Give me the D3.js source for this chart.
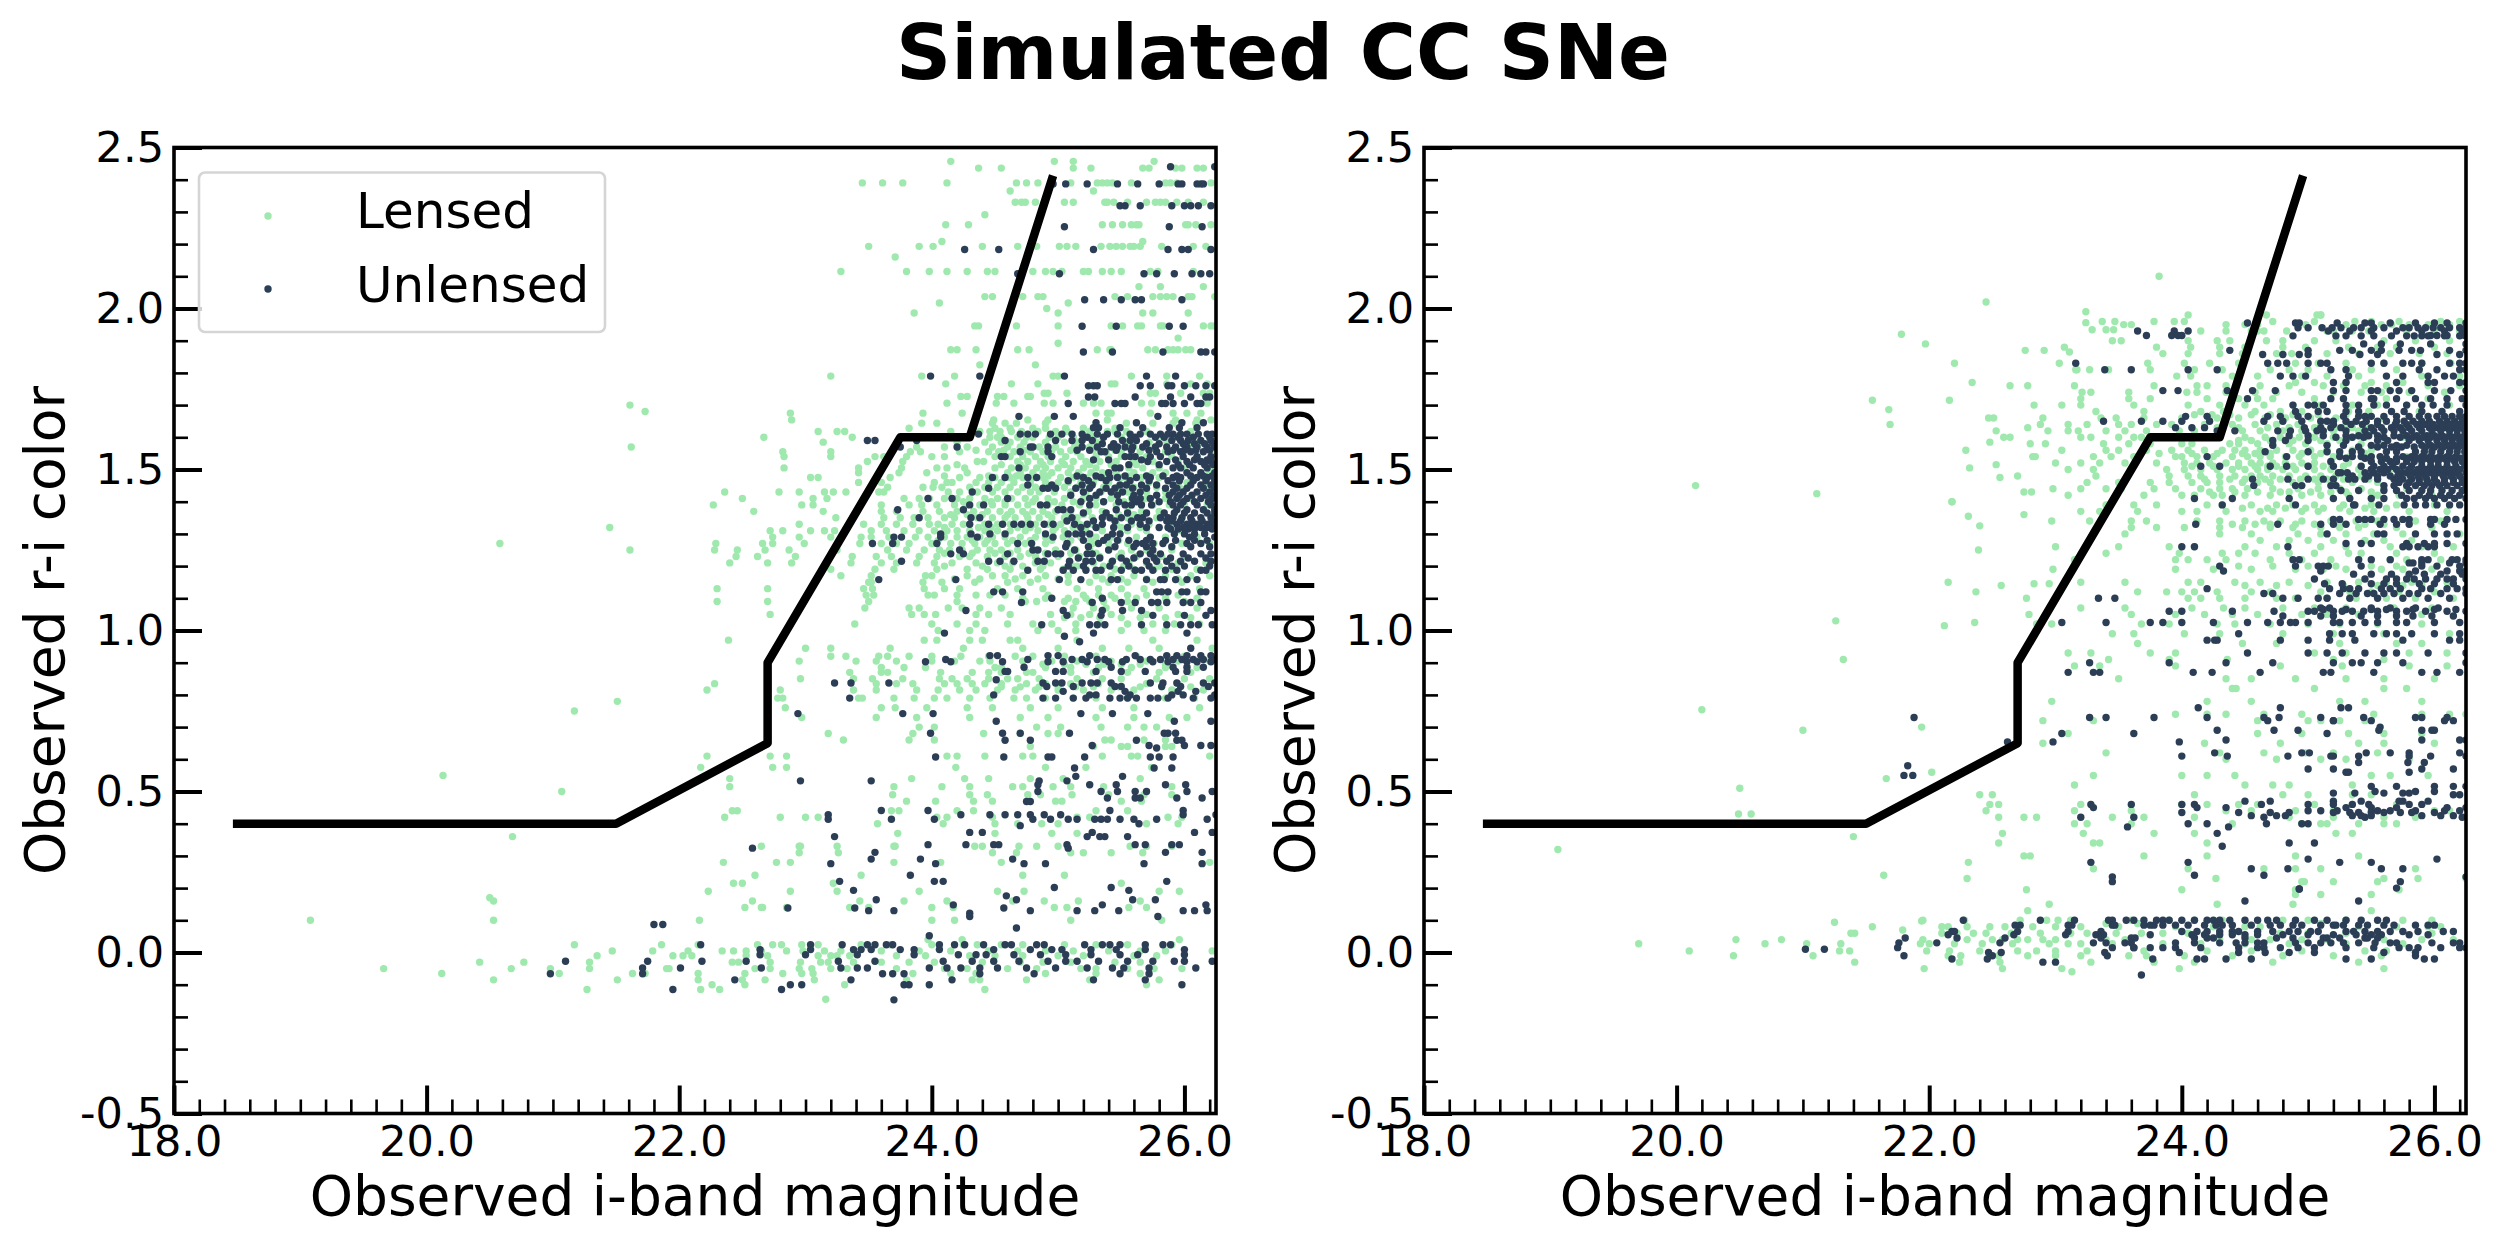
<!DOCTYPE html>
<html><head><meta charset="utf-8"><script src="https://cdn.jsdelivr.net/npm/d3@7"></script>
<style>html,body{margin:0;background:#fff}svg{display:block}text{font-family:"DejaVu Sans";fill:#000}</style></head><body><div id="c"></div>
<script>
const xDomain=[18,26.25], yDomain=[-0.5,2.5];
const xMajor=[18,20,22,24,26], xTickLabels=["18.0","20.0","22.0","24.0","26.0"];
const yMajor=[-0.5,0,0.5,1,1.5,2,2.5], yTickLabels=["-0.5","0.0","0.5","1.0","1.5","2.0","2.5"];
const cutMag=[18.5,21.5,22.7,22.7,23.75,24.3,24.95], cutColor=[0.4,0.4,0.65,0.9,1.6,1.6,2.4];
// rows: [r-i colour, [i magnitudes]]
const unlensedLeft=[
[2.44,[25.89,26.24]],[2.387,[24.96,25.06,25.23,25.47,25.63,25.8,25.95,25.98,26.1,26.13,26.15]],
[2.319,[25.49,25.53,25.65,25.9,26.0,26.05,26.11,26.21]],[2.254,[25.05,25.88,26.14]],
[2.183,[24.26,24.53,25.28,25.87,25.98,26.03,26.21]],[2.108,[24.68,25.01,25.68,25.78,25.92,26.06,26.13,26.2]],
[2.027,[25.21,25.36,25.5,25.61,25.66,25.98]],[1.945,[25.19,25.46,25.88,25.99]],[1.865,[25.2,25.43,25.83,26.13,26.17,26.24]],
[1.79,[23.99,24.38,25.05,25.7,25.93]],[1.76,[25.28,25.31,25.24,25.65,25.9,25.87,26.0,26.09,26.17,26.24,25.73]],
[1.725,[25.24,25.29,25.61,25.89,26.05,26.17,26.2]],[1.705,[25.08,25.45,25.5,25.53,25.82,25.85,25.91,26.0,26.1,26.13]],
[1.665,[24.69,24.97,25.12,25.79]],[1.63,[25.32,25.28,25.49,25.67,25.88,25.96,26.1]],
[1.61,[24.37,24.7,24.76,24.82,24.94,25.03,25.11,25.19,25.31,25.39,25.47,25.57,25.65,25.73,25.81,25.87,25.91,25.97,26.02,26.11,26.18,26.22]],
[1.59,[23.49,23.55,23.88,24.58,24.98,25.11,25.19,25.27,25.51,25.57,25.62,25.9,25.97,26.03,26.13,26.21]],
[1.57,[23.75,24.2,24.78,24.8,24.92,25.19,25.31,25.42,25.47,25.53,25.59,25.67,25.77,25.86,25.93,26.02,26.1,26.18,26.24]],
[1.555,[24.7,24.92,25.34,25.37,25.78,25.87,25.97,26.05,26.15]],[1.54,[24.55,24.58,24.95,25.53,25.57,25.61,25.73,25.81,25.99,26.1,26.21]],
[1.525,[25.71,25.86,26.02,26.13,26.21]],[1.505,[24.69,25.49,25.45,25.91,25.97,26.07,26.18]],[1.49,[25.4,26.02,26.13,26.24]],
[1.475,[24.48,24.58,24.76,24.83,25.2,25.34,25.41,25.47,25.62,25.73,25.91,25.97,26.1,26.18,26.24]],
[1.452,[24.76,24.95,25.19,25.27,25.49,25.54,25.66,25.78,25.91,26.05,26.13,26.21]],
[1.442,[24.45,24.88,24.92,24.98,25.14,25.25,25.38,25.45,25.59,25.7,25.85,25.94,26.02,26.15,26.24]],
[1.43,[24.32,25.2,25.33,25.42,25.51,25.65,25.91,25.99,26.1,26.2]],
[1.41,[23.97,24.16,24.6,25.25,25.59,25.65,25.73,25.94,26.02,26.13,26.22]],
[1.39,[24.3,24.41,24.86,24.91,25.25,25.53,25.58,25.66,25.74,25.91,25.97,26.1,26.21]],
[1.375,[23.73,24.25,25.0,25.04,25.1,25.46,25.94,26.02,26.15,26.24]],
[1.35,[23.9,24.31,24.38,25.11,25.35,25.41,25.5,25.63,25.67,25.81,25.87,25.91,25.98,26.05,26.13,26.21]],
[1.33,[24.3,24.45,24.56,24.65,24.71,24.78,24.89,24.96,25.13,25.23,25.35,25.65,25.94,26.02,26.1,26.18,26.24]],
[1.315,[25.89,25.95,26.03,26.08,26.16,26.22]],
[1.30,[24.07,24.31,24.46,24.58,24.9,25.08,25.14,25.19,25.25,25.49,25.43,25.92,26.0,26.08,26.16]],
[1.29,[23.7,23.76,24.07,24.36,24.96,25.39,25.73,26.04,26.24]],
[1.27,[23.53,23.69,24.04,24.68,24.79,25.07,25.32,25.62,25.67,25.75,25.83,26.02,26.13]],
[1.25,[24.22,24.8,24.84,25.13,25.4,25.75]],
[1.238,[24.15,24.25,24.6,24.92,24.98,25.02,25.23,25.27,25.65,25.73,25.81,25.99,26.13,26.21]],
[1.215,[23.76,24.45,24.54,24.65,24.84,24.89,25.09,25.22,25.27,25.43,25.54,25.7,25.78,25.86,25.97,26.08,26.21]],
[1.187,[24.76,25.04,25.12,25.22,25.3,25.34,25.5,25.61,25.66,25.75,25.85,25.94,26.17,26.13]],
[1.158,[23.58,24.19,25.01,25.18,25.42,25.47,25.7,25.81,25.84,25.93,26.02,26.1]],
[1.12,[24.49,24.56,24.72,25.78,25.82,25.87,25.98,26.02,26.13,26.17]],[1.10,[24.95,25.35]],
[1.087,[24.71,25.27,25.5,25.61,25.74,25.79,25.86,25.99,26.05,26.13]],[1.062,[24.27,25.04,25.35,25.51,25.66,26.21]],
[1.047,[25.07,25.34,25.75,26.0,26.17]],[1.018,[24.87,25.25,25.31,25.37,25.66,25.86,25.97,26.05,26.11,26.22]],
[0.992,[24.1,25.28,26.02]],[0.982,[25.05]],[0.965,[25.17]],[0.945,[26.05]],
[0.922,[24.46,24.52,24.92,25.0,25.25,25.61,25.86,25.94,26.02,26.13,26.21]],
[0.91,[24.11,24.76,25.11,25.19,25.31,25.37,25.54,25.65,25.73,25.81,25.91,25.98,26.07,26.15,26.24]],
[0.903,[23.95,24.15,24.56,24.92,25.04,25.23,25.4,25.51,25.75,25.87,26.02,26.1,26.21]],
[0.886,[24.73,25.42,25.91,26.02,26.15]],[0.873,[24.58,24.6,24.98,25.04,25.3,25.5,25.69,25.93,26.02]],
[0.847,[24.51]],[0.837,[23.23,23.36,23.66,24.88,24.98,25.03,25.19,25.26,25.31,25.42,25.73,25.83,25.94,26.15,26.24]],
[0.826,[24.91,25.12,25.45,25.5,25.82,25.97,26.19]],[0.811,[25.04,25.53,25.95,26.09]],[0.80,[24.49,25.3,25.25,25.57,25.9,25.99,26.24]],
[0.79,[23.35,24.88,24.98,25.12,25.22,25.41,25.49,25.55,25.62,25.73,25.79,25.87,26.07,26.21]],
[0.742,[22.94,23.77,24.01,25.18,25.43,25.71]],[0.718,[24.51,25.92,26.21]],[0.681,[23.99,24.56,24.7,25.09,25.84,25.87,25.93]],
[0.659,[24.58,24.78,25.62,25.94,25.98]],[0.643,[25.27,25.72,26.13,26.21,26.0]],[0.635,[25.78]],
[0.607,[24.03,24.57,24.92,24.95,25.21,25.73,25.8,25.91]],[0.573,[25.13,25.76,25.9]],[0.547,[25.14,25.51]],
[0.533,[22.96,23.52,24.85,25.07]],[0.521,[24.84,25.25,25.46,25.85,26.01]],[0.50,[24.84,25.34,25.47,25.61,25.7,26.02,26.22]],
[0.48,[25.39,25.61,25.65,25.94,26.14]],[0.469,[24.75,24.78]],[0.441,[23.6,23.97,25.41,25.99]],
[0.428,[23.18,24.23,24.46,24.58,24.68,24.78,24.89,25.02,25.99,26.25]],
[0.414,[23.18,23.68,24.02,24.8,24.94,25.08,25.15,25.29,25.34,25.39,25.49,25.6,25.78,26.18]],[0.40,[25.64]],[0.394,[24.7]],
[0.373,[24.3,24.4,25.27,26.08,26.22]],[0.36,[23.23,25.23,25.33,25.37,25.55]],
[0.335,[23.97,24.27,24.49,24.53,25.07,25.61,25.69,25.9,25.96]],[0.324,[22.58,25.08]],[0.311,[23.55,25.85,26.14]],
[0.29,[23.52,23.91,24.64]],[0.276,[23.2,24.03,24.73,24.9,25.68,26.14]],[0.24,[23.83]],[0.221,[23.27,24.02,24.09,25.86]],
[0.202,[24.97,25.42]],[0.193,[23.38,25.56]],[0.176,[24.59]],[0.164,[23.56,24.67,25.59,25.77]],[0.148,[24.17,25.35,26.17]],
[0.138,[22.86,23.39,24.57]],[0.13,[23.5,23.7,24.78,25.15,25.29,25.48,25.99,26.08,26.18]],[0.122,[24.3]],[0.112,[24.3,25.79]],
[0.087,[21.8,21.87]],[0.076,[24.67]],[0.052,[23.98]],
[0.024,[22.17,23.04,23.29,23.49,23.55,23.64,23.69,24.06,24.18,24.26,24.41,24.58,24.63,24.83,24.89,25.21,25.35,25.41,25.49,25.69,25.83,25.89]],
[0.009,[22.64,23.04,23.38,23.44,23.52,23.75,23.86,24.06,24.49,24.78,24.95,25.03,25.26,25.46,25.69,26.0]],
[-0.007,[22.64,23.0,23.41,23.86,24.21,24.35,24.43,24.65,24.86,25.06,25.26,25.49,25.63,26.0]],
[-0.027,[21.1,21.75,22.18,22.53,23.26,23.55,24.09,24.32,24.49,24.69,24.92,25.06,25.15,25.32,25.55,25.75,25.92,26.0,26.22]],
[-0.048,[21.71,22.01,22.65,23.28,23.41,23.49,23.98,24.12,24.23,24.38,24.52,24.75,24.98,25.23,25.43,25.52,25.72,26.09]],
[-0.066,[20.98,21.71,23.61,23.69,23.78,24.38,24.81,25.49,25.72]],[-0.085,[22.44,23.36,24.16,25.28,25.69]],
[-0.10,[22.88,22.97,23.78,23.82,23.98,25.98]],[-0.115,[21.95,22.81]],[-0.147,[23.7]]];
const unlensedLeftDense=[
[1.645,[25.3,25.62,25.98,26.15]],[1.6,[25.23,25.36,25.61,25.77,25.84,25.95,26.07,26.2]],[1.58,[25.35,25.44,25.7,25.8,25.99,26.08,26.16,26.23]],
[1.56,[25.15,25.25,25.46,25.58,25.72,25.91,26.0,26.09,26.2]],[1.53,[25.28,25.4,25.66,25.93,26.08,26.18]],[1.515,[25.56,25.8,25.95,26.04,26.16,26.23]],
[1.48,[25.15,25.3,25.53,25.7,25.83,25.94,26.05,26.15,26.22]],[1.465,[25.08,25.24,25.38,25.57,25.72,25.87,25.96,26.07,26.17,26.24]],
[1.42,[25.1,25.3,25.47,25.6,25.78,25.88,25.96,26.06,26.17,26.24]],[1.40,[25.18,25.36,25.48,25.62,25.8,25.89,25.99,26.08,26.19]],
[1.365,[25.2,25.38,25.55,25.7,25.84,25.92,26.0,26.08,26.18,26.24]],[1.34,[25.07,25.28,25.45,25.58,25.72,25.86,25.9,25.97,26.06,26.14,26.22]],
[1.32,[25.18,25.3,25.44,25.55,25.7,25.8,25.87,25.99,26.06,26.13,26.2]],[1.28,[25.2,25.36,25.47,25.56,25.7,25.85,25.93,26.08,26.18]],
[1.26,[25.06,25.24,25.45,25.6,25.7,25.9,26.05,26.2]],[1.225,[25.16,25.33,25.5,25.6,25.76,25.89,26.03,26.17]],[1.2,[25.08,25.2,25.41,25.56,25.72,25.9,26.0,26.2]]];
const lensedLeft=[
[2.457,[24.15,24.97,25.12,25.76]],[2.436,[24.37,24.55,25.12,25.26,25.67,25.72,25.93,25.98,26.1,26.15]],
[2.39,[23.45,23.61,23.77,24.12,24.67,24.75,24.84,25.1,25.31,25.35,25.39,25.43,25.58,25.85,25.89,25.94,26.21]],[2.365,[24.62,25.28]],
[2.33,[24.66,24.71,24.74,24.82,25.05,25.12,25.37,25.39,25.44,25.55,25.7,25.77,25.81,25.85,25.94,26.03,26.15]],[2.291,[24.42]],
[2.26,[24.11,24.29,25.35,25.43,25.51,25.58,25.62,25.64,26.01,26.03,26.09,26.21]],[2.208,[24.08,25.67]],
[2.193,[23.5,23.9,24.01,24.4,24.68,24.83,25.01,25.07,25.14,25.34,25.41,25.46,25.51,25.57,25.6,25.65,25.82,26.07,26.17]],[2.16,[23.71]],
[2.115,[23.28,23.8,23.98,24.12,24.28,24.44,24.5,24.8,24.9,24.96,25.03,25.2,25.24,25.35,25.42,25.5,26.07,25.73,25.79]],[2.068,[25.64,25.81,26.15]],
[2.037,[24.42,24.48,24.72,24.84,24.88,25.45,25.55,25.75,25.81,25.86,25.91,26.03,26.06,26.24]],[2.017,[24.06,25.08]],[2.0,[24.91]],
[1.986,[23.86,25.0,25.67,25.75,26.03]],[1.946,[24.34,24.37,24.67,25.0,25.42,25.51,25.63,25.66,25.81,25.83,26.15,26.21,26.24]],[1.908,[25.95]],[1.892,[25.0]],
[1.872,[24.15,24.2,24.35,24.68,24.77,25.31,25.41,25.42,25.71,25.77,25.87,25.91,25.95,26.01,26.05]],[1.825,[24.38,24.82]],
[1.79,[23.2,23.92,24.18,24.96,25.0,25.58,25.86,26.12]],[1.766,[24.11,24.63,24.84,25.42,25.45,25.86,26.05,26.18]],
[1.737,[24.89,24.92,25.07,25.73,25.77,25.97,26.2,26.15]],[1.727,[24.23,24.28,24.52,24.57,24.76,24.78]],
[1.706,[24.12,24.51,24.65,24.89,24.96,25.2,25.28,25.34,25.66,25.74,26.18]],
[1.675,[22.88,23.93,24.24,25.3,25.39,25.42,25.73,25.91,26.02,26.13]],[1.654,[22.89,24.49,24.76,24.92,25.39,25.93,26.1,26.21]],
[1.644,[23.92,24.04,24.48,24.58,24.67,24.9,25.54,25.75,25.91,26.09]],[1.628,[23.82,24.9,25.06,24.5,24.62,24.8,25.2,25.45]],
[1.618,[23.1,23.25,23.31,24.15,24.38,24.46,24.54,24.63,24.71,24.84,24.98,25.07,25.25,25.39,25.45,25.54,25.7,26.05]],
[1.6,[22.67,23.37,24.46,24.52,24.68,24.8,25.0,25.35,25.6,25.8,25.97,26.2]],
[1.585,[23.14,24.2,24.42,24.55,24.62,24.73,24.9,25.05,25.15,25.3,25.55,25.72,25.86,26.12]],
[1.57,[23.88,24.1,24.28,24.48,24.6,24.7,24.85,24.98,25.13,25.25,25.43,25.6,25.77,25.93,26.05]],
[1.555,[22.82,23.2,23.83,23.91,24.22,24.45,24.53,24.65,24.78,24.88,25.02,25.15,25.38,25.5,25.65,25.85,26.22]],
[1.54,[22.83,23.2,23.55,23.62,23.8,24.0,24.1,24.5,24.62,24.72,24.82,24.92,25.06,25.18,25.3,25.4,25.5,25.7,25.9,26.1]],
[1.525,[23.49,23.77,24.36,24.41,24.68,24.76,24.86,24.94,25.03,25.12,25.22,25.33,25.46,25.6,25.75,25.95,26.15]],
[1.505,[22.83,23.42,23.76,24.04,24.12,24.26,24.5,24.63,24.74,24.83,24.9,25.0,25.1,25.2,25.3,25.56,25.67,25.8,26.0,26.22]],
[1.49,[23.42,23.74,23.96,24.28,24.6,24.7,24.8,24.88,24.95,25.08,25.16,25.26,25.35,25.46,25.6,25.75,25.85,26.2]],
[1.475,[23.04,23.1,23.67,24.22,24.38,24.5,24.62,24.72,24.8,24.88,25.02,25.12,25.22,25.32,25.5,25.66,25.8,25.95,26.1]],
[1.46,[23.42,23.6,24.02,24.12,24.16,24.35,24.45,24.55,24.65,24.78,24.9,25.0,25.08,25.18,25.28,25.4,25.55,25.72,26.02]],
[1.445,[23.65,23.93,24.01,24.08,24.3,24.42,24.52,24.62,24.72,24.82,24.94,25.05,25.15,25.25,25.36,25.47,25.6,25.78,25.96,26.18]],
[1.43,[22.36,22.79,22.95,23.15,23.22,23.32,23.58,23.62,24.13,24.22,24.36,24.48,24.58,24.68,24.78,24.85,24.97,25.1,25.22,25.34,25.45,25.55,25.7,25.85]],
[1.41,[22.5,23.06,23.17,23.78,23.9,23.98,24.1,24.2,24.3,24.42,24.52,24.63,24.74,24.82,24.92,25.05,25.2,25.3,25.42,25.58,25.7,25.85,26.05]],
[1.39,[22.27,22.97,23.06,23.6,23.82,23.92,24.04,24.18,24.27,24.38,24.48,24.58,24.68,24.76,24.92,25.03,25.17,25.3,25.46,25.58,25.75,25.88,26.0,26.18]],
[1.37,[22.59,23.14,23.6,23.72,23.93,24.06,24.2,24.33,24.44,24.54,24.63,24.72,24.8,24.88,24.98,25.1,25.24,25.35,25.55,25.66,25.8]],
[1.35,[23.24,23.62,23.75,23.86,23.97,24.1,24.18,24.36,24.48,24.58,24.66,24.76,24.85,24.95,25.05,25.15,25.27,25.42,25.55,25.66,25.78,25.98]],
[1.33,[22.95,23.46,23.6,23.72,23.85,23.98,24.05,24.16,24.25,24.42,24.52,24.62,24.73,24.82,24.92,25.02,25.17,25.27,25.46,25.58,25.72,25.88]],
[1.31,[22.72,22.82,23.04,23.15,23.23,23.52,23.64,23.78,23.9,24.02,24.12,24.2,24.3,24.42,24.52,24.62,24.74,24.84,24.96,25.05,25.22,25.35,25.55,25.7,25.95]],
[1.29,[22.74,22.95,23.2,23.44,23.52,23.66,23.87,23.97,24.1,24.2,24.28,24.38,24.48,24.58,24.7,24.82,24.9,25.04,25.18,25.3,25.42,25.62,25.85,26.1]],
[1.27,[22.29,22.66,22.74,22.99,23.43,23.6,23.72,23.82,24.0,24.15,24.24,24.34,24.42,24.5,24.6,24.74,24.9,25.08,25.27,25.4,25.55,25.76,25.98,26.2]],
[1.25,[22.28,22.46,22.68,22.87,23.25,23.65,23.8,23.94,24.06,24.14,24.24,24.36,24.46,24.55,24.68,24.82,24.98,25.14,25.25,25.4,25.58,25.7,25.9]],
[1.23,[22.45,22.62,22.92,23.37,23.56,23.68,23.9,24.04,24.22,24.3,24.44,24.58,24.7,24.82,25.0,25.17,25.33,25.48,25.62,25.82,26.0]],
[1.21,[22.4,22.7,22.89,23.36,23.6,23.72,23.88,24.02,24.16,24.35,24.52,24.64,24.82,24.94,25.1,25.28,25.42,25.56,25.7,25.95,26.17]],
[1.19,[23.2,23.55,23.7,24.04,24.28,24.44,24.62,24.86,25.04,25.22,25.45,25.6,25.76,25.9,26.1]],
[1.17,[23.28,23.52,23.95,24.0,24.28,24.48,24.58,24.72,24.9,25.08,25.3,25.42,25.6,25.85,26.05,26.2]],
[1.15,[23.5,23.52,23.93,24.08,24.34,24.6,24.78,25.08,25.25,25.4,25.55,25.75,25.98]],
[1.13,[22.3,22.7,23.46,23.53,23.94,24.1,24.22,24.52,24.68,24.88,25.15,25.32,25.5,25.68,26.12]],
[1.11,[23.48,23.54,23.97,24.02,24.2,24.35,24.46,24.58,24.92,25.2,25.32,25.42,25.55,25.7,25.95]],
[1.09,[22.3,22.7,23.5,24.2,24.74,24.83,25.05,25.14,25.25,25.36,25.55,25.86,26.0]],
[1.07,[23.47,23.82,23.9,24.13,24.24,24.38,24.55,25.12,25.28,25.38,25.58,25.8,26.1]],
[1.05,[22.72,23.84,23.94,24.03,24.35,24.45,24.62,24.94,25.1,25.25,25.42,25.7,25.95]],
[1.02,[23.39,24.0,24.2,24.35,24.6,24.8,24.95,25.14,25.33,25.55,25.75,25.92,26.12]],
[1.0,[24.05,24.3,24.42,24.84,25.0,25.14,25.5,25.68,25.85]],[0.97,[22.39,23.94,24.04,24.3,24.4,24.62,24.68,25.15,25.75,26.1]],
[0.945,[23.0,23.2,23.67,24.25,24.72,25.0,25.35,25.56,25.8,26.22]],
[0.92,[23.2,23.32,23.58,23.65,23.82,24.0,24.23,24.45,24.66,24.8,25.05,25.3,25.62,26.0]],
[0.905,[22.95,23.4,23.56,23.72,24.0,24.18,24.38,24.46,24.72,24.95,25.15,25.42,25.7,25.95,26.2]],
[0.885,[23.6,23.78,23.95,24.5,24.55,24.9,25.1,25.32,25.58,25.85,26.1]],
[0.87,[23.35,23.6,23.65,24.07,24.32,24.45,24.55,24.75,24.8,25.1,25.28,25.55,25.8,26.05]],
[0.85,[22.96,23.38,23.53,23.77,24.06,24.16,24.28,24.45,24.6,24.68,24.85,25.15,25.35,25.5,25.78,26.0,26.2]],
[0.835,[22.28,23.56,23.72,23.85,24.1,24.2,24.32,24.42,24.55,24.75,24.9,25.1,25.32,25.7,25.95]],
[0.815,[22.22,22.8,23.38,23.56,23.88,24.05,24.22,24.35,24.52,24.66,24.82,25.0,25.2,25.42,25.6,25.9,26.15]],
[0.79,[22.78,22.82,23.42,23.45,23.7,23.86,24.02,24.12,24.3,24.46,24.65,24.75,24.9,25.12,25.3,25.55,25.85,26.08]],
[0.76,[22.84,23.6,23.71,23.96,24.28,24.48,24.78,25.0,25.35,25.6,26.12]],[0.73,[22.97,23.56,23.88,24.3,24.7,24.92,25.3,25.6,25.88,26.02]],
[0.70,[23.9,24.02,24.83,25.02,25.34,25.55,25.68,25.78]],[0.68,[23.18,23.85,24.41,24.7,24.92,25.0]],
[0.66,[23.3,23.82,24.02,25.37,25.42,25.68,25.85]],[0.64,[24.78,25.28,25.5,25.55,25.85,25.9]],
[0.61,[22.22,22.72,22.85,24.12,24.2,24.42,24.72,24.8,25.35,25.58,25.63,26.2]],[0.575,[22.17,22.74,22.85,24.19,24.9,25.22,25.74]],
[0.54,[22.4,23.84,24.26,24.45,24.78,25.04,25.65]],[0.515,[22.4,23.7,24.08,24.3,24.64,24.72,24.96,25.1,25.36,25.9]],
[0.49,[23.69,24.3,24.44,24.76,24.86,25.11,25.4,25.68,25.9]],[0.47,[23.8,24.03,24.33,24.48,24.98,25.03,25.5,25.66]],
[0.44,[22.42,22.46,23.68,23.74,24.2,24.33,25.3,25.55]],[0.42,[22.36,22.8,23.0,23.1,24.04,24.12,24.48,25.15,25.25,25.87,25.98]],
[0.40,[23.57,24.09,24.5,24.68,24.87,25.0,25.7,25.95]],[0.37,[23.73,24.5,24.95,25.15]],
[0.33,[22.65,22.96,22.95,23.25,23.7,23.71,24.34,24.4,24.69,24.83,25.0,25.57,25.7,25.9]],[0.31,[22.95,23.26,24.48,24.67,25.2,25.1,25.42,25.67]],
[0.28,[22.35,22.77,22.88,23.7,24.07,24.55,26.2]],[0.24,[22.6,23.44,24.72,25.05]],[0.215,[22.43,22.5,23.22,25.5]],
[0.19,[22.23,22.88,23.25,23.9,24.52,24.73,25.8,25.96]],[0.16,[22.58,23.43,23.78,24.12,24.64,24.89,25.16,25.65]],
[0.14,[22.52,22.65,22.66,22.85,23.35,23.5,24.0,24.17,24.97,25.07,25.56,25.7]],
[0.10,[19.08,20.53,22.16,24.0,24.18,25.1,25.82]],[0.16,[20.53]],[0.04,[23.97,24.24,25.96]],
[0.024,[21.17,21.86,22.15,22.62,22.74,22.81,22.97,23.1,23.44,23.67,24.0,24.25,24.36,24.55,24.72,25.05,25.3,25.55,25.9]],
[0.005,[21.47,21.79,22.07,22.34,22.43,22.53,22.65,22.85,22.98,23.15,23.28,23.6,23.9,24.15,24.45,24.68,24.9,25.12,25.4,25.65,25.85,26.22]],
[-0.01,[21.35,21.95,22.03,22.1,22.53,22.7,23.1,23.2,23.25,23.35,23.72,23.95,24.3,24.5,24.72,25.0,25.2,25.6,25.78]],
[-0.03,[20.42,20.77,21.29,22.42,22.47,22.72,22.96,23.12,23.18,23.38,23.6,23.82,24.02,24.4,24.7,24.88,25.1,25.45,25.65]],
[-0.05,[19.66,20.67,20.98,21.29,21.9,21.92,22.6,22.72,22.95,23.05,23.2,23.33,23.72,24.1,24.28,24.6,24.83,25.18,25.3,25.55,25.76,25.98]],
[-0.065,[20.12,21.05,21.63,21.73,22.15,22.52,22.82,22.97,23.06,23.85,24.15,24.35,24.9,25.3,25.65]],
[-0.085,[20.53,21.51,22.15,22.5,22.68,23.07,23.8,24.32,24.38,24.75,25.25,25.8]],[-0.10,[22.26,22.52,23.31,25.7]],
[-0.115,[21.27,22.17,24.42,22.32]],[-0.145,[23.16]],
[1.70,[21.61]],[1.68,[21.73]],[1.57,[21.62]],[1.32,[21.45]],[1.25,[21.61]],[1.27,[20.58]],[0.75,[21.17]],[0.78,[21.51]],[0.55,[20.13]],[0.50,[21.07]],[0.36,[20.68]],[0.17,[20.5]]];
const lensedLeftDense=[
[1.6,[24.55,24.75,24.93,25.12,25.28,25.5]],[1.56,[24.35,24.57,24.73,24.95,25.1,25.28,25.45,25.72]],[1.515,[24.2,24.55,24.7,24.88,25.05,25.25,25.42,25.62]],
[1.48,[24.1,24.45,24.67,24.92,25.18,25.38,25.56,25.72]],[1.4,[24.25,24.47,24.58,24.8,24.97,25.12,25.36,25.52,25.66]],[1.36,[24.15,24.28,24.4,24.6,24.75,24.92,25.08,25.2,25.48,25.6]],
[1.32,[24.1,24.37,24.47,24.68,24.78,24.98,25.12,25.32,25.5,25.65]],[1.28,[24.05,24.32,24.44,24.64,24.78,24.95,25.1,25.25,25.48,25.7]],
[1.24,[24.1,24.32,24.5,24.62,24.77,24.9,25.1,25.3,25.5,25.75]],[1.2,[24.1,24.4,24.58,24.72,24.88,25.15,25.36,25.52,25.8]],[1.16,[24.18,24.38,24.66,24.84,25.0,25.35,25.5,25.7,25.95]],
[1.1,[24.72,24.9,25.08,25.22,25.45,25.62,25.85,26.1]],[1.04,[25.05,25.18,25.33,25.5,25.65,25.85,26.05]],[0.895,[24.88,25.05,25.22,25.36,25.5,25.65,25.85]],[0.825,[24.55,24.7,24.85,25.0,25.14,25.28,25.48,25.65,25.82,26.05]]];
const unlensedRight=[
[1.955,[24.52,24.9,24.93,25.23,25.45,25.5,25.65,25.85,26.0,26.1,26.25]],
[1.94,[24.92,25.0,25.11,25.19,25.26,25.36,25.42,25.52,25.6,25.75,25.8,25.87,25.93,25.99,26.05,26.12,26.2,26.25]],
[1.93,[23.65,23.94,24.05,25.16,25.33,25.5,25.7,25.9,26.08,26.22]],[1.916,[25.97,26.02,26.1,26.24]],
[1.915,[24.88,25.22,25.3,25.42,25.52,25.66,25.78,25.84,25.9,25.95,26.08,26.2]],[1.916,[23.72,23.92,23.97,24.0]],
[1.89,[25.44,25.58,25.73,25.97,26.25]],[1.87,[24.38,25.0,25.25,25.35,25.5,25.58,25.72,25.82,25.89,26.12,26.25]],
[1.857,[24.64,24.8,24.93,25.0,25.41,25.55,26.02,26.2]],[1.83,[23.16,24.68,24.76,24.83,25.0,25.1,25.15,25.5,25.6,25.75,25.82,25.9,26.12,26.2,26.25]],
[1.81,[23.39,23.6,24.05,24.28,25.18,25.3,25.88,26.02,26.2,26.25]],[1.79,[24.78,24.88,24.98,25.32,25.62,25.75,25.95,26.08,26.15]],
[1.77,[25.2,25.3,25.7,25.95,26.0,26.2,26.25]],[1.745,[23.85,23.97,24.36,24.56,24.74,25.2,25.3,25.5,25.55,25.65,25.72,25.82,26.0,26.13,26.25]],
[1.72,[24.52,25.18,25.28,25.5,25.52,25.7,25.85,25.97,26.1,26.22]],[1.70,[24.88,25.0,25.05,25.12,25.3,25.4,25.52,25.62,25.78,25.9,25.99,26.1,26.25]],
[1.68,[24.9,25.08,25.15,25.3,25.4,25.66,25.76,25.9,26.06,26.2]],
[1.665,[24.03,24.2,24.68,24.78,24.92,25.0,25.28,25.4,25.45,25.5,25.6,25.7,25.8,25.88,25.95,26.02,26.08,26.14,26.2,26.25]],
[1.65,[23.38,23.68,23.85,24.0,24.22,24.65,24.8,24.95,25.1,25.15,25.2,25.3,25.38,25.46,25.55,25.62,25.7,25.76,25.83,25.9,25.96,26.04,26.1,26.16,26.22]],
[1.63,[23.95,24.08,24.18,24.97,25.1,25.18,25.26,25.5,25.58,25.66,25.73,25.8,25.88,25.96,26.02,26.08,26.14,26.2,26.25]],
[1.62,[24.28,24.42,24.76,24.86,24.98,25.07,25.12,25.3,25.45,25.52,25.6,25.68,25.75,25.82,25.9,25.98,26.05,26.12,26.18,26.24]],
[1.605,[24.85,25.0,25.12,25.3,25.4,25.48,25.55,25.68,25.78,25.86,25.94,26.0,26.06,26.12,26.18,26.24]],
[1.59,[24.72,24.82,25.0,25.3,25.55,25.63,25.8,25.88,25.95,26.02,26.08,26.14,26.2,26.25]],
[1.575,[24.72,25.15,25.28,25.5,25.6,25.7,25.78,25.9,25.97,26.04,26.1,26.16,26.22]],
[1.555,[24.66,25.0,25.15,25.25,25.35,25.42,25.62,25.7,25.85,25.92,25.98,26.05,26.12,26.18,26.24]],
[1.54,[24.2,24.83,25.25,25.35,25.42,25.5,25.57,25.75,25.82,25.9,25.97,26.04,26.1,26.17,26.25]],
[1.525,[25.18,25.5,25.58,25.65,25.7,25.78,25.84,25.9,25.97,26.03,26.1,26.16,26.22]],
[1.51,[24.15,24.3,24.7,24.83,25.0,25.2,25.42,25.52,25.6,25.67,25.75,25.82,25.9,25.97,26.03,26.1,26.17,26.24]],
[1.49,[25.24,25.26,25.31,25.45,25.52,25.6,25.74,25.78,25.84,25.9,25.97,26.04,26.1,26.17,26.25]],
[1.47,[24.56,24.84,25.0,25.12,25.2,25.32,25.37,25.45,25.55,25.68,25.75,25.82,25.88,25.94,26.0,26.08,26.15,26.22]],
[1.45,[24.57,24.9,24.95,25.18,25.22,25.6,25.68,25.78,25.85,25.92,25.98,26.04,26.1,26.18,26.25]],
[1.435,[25.26,25.4,25.6,25.7,25.8,25.9,25.97,26.06,26.14,26.22]],
[1.41,[24.1,24.4,24.85,25.2,25.33,25.5,25.6,25.78,25.84,25.93,26.0,26.08,26.16,26.25]],
[1.39,[24.32,24.9,25.36,25.37,25.56,25.76,25.85,25.93,26.02,26.12,26.2]],
[1.345,[25.2,25.25,25.4,25.45,25.5,25.6,25.68,25.75,25.8,25.97,26.0,26.1,26.17,26.25]],
[1.33,[24.11,24.76,25.1,25.2,25.3,25.57,25.7,25.8,25.97,26.08]],[1.30,[25.15,25.55,25.6,25.85,26.0,26.1,26.18]],
[1.27,[25.3,25.42,25.5,25.78,25.92,26.0,26.1,26.25]],[1.26,[24.0,24.1,24.84,25.75,25.8,25.87,25.95,26.0]],
[1.22,[24.88,24.93,25.4,25.5,25.65,25.9,25.95,26.14,26.18,26.25]],
[1.21,[25.8,25.83,25.9,26.12,26.25]],[1.2,[24.3,24.9,25.08,25.12,25.16,25.42,25.9,26.02,26.2]],
[1.185,[24.33,25.1,25.85,26.1,26.2,26.25]],[1.16,[25.05,25.45,25.62,25.7,25.78,25.84,25.93,26.02,26.1,26.15,26.25]],
[1.145,[25.13,25.27,25.5,25.6,25.7,25.88,26.0,26.15]],[1.13,[24.2,25.17,25.28,25.33,25.4,25.58,25.65,25.73,25.9,25.97,26.1,26.18,26.25]],
[1.115,[24.65,24.72,25.25,25.38,25.47,25.52,25.6,25.68,25.8,25.87,26.05,26.25]],
[1.10,[23.34,23.47,24.8,24.92,25.08,25.15,25.33,25.55,25.75,25.95,26.12]],[1.07,[25.1,25.17,25.5,25.65,25.85,26.03]],
[1.06,[23.9,24.0,24.4,24.73,25.0,25.05,25.2,25.27,25.35,25.44,25.55,25.7,25.78,25.93,26.1,26.25]],
[1.045,[24.8,25.1,25.2,25.42,25.55,25.7,25.83,25.98,26.15]],
[1.025,[23.05,23.4,23.75,23.85,24.0,24.25,24.52,24.68,24.78,24.86,24.9,25.0,25.2,25.25,25.35,25.45,25.55,25.7,25.78,26.0,26.2]],
[0.99,[24.45,25.17,25.27,25.35,25.52,25.62,25.7,25.82,26.0,26.2]],[0.97,[24.26,24.28,24.2,24.78,25.0,25.17,25.37,25.75,26.12,26.2]],
[0.93,[24.52,25.0,25.15,25.27,25.45,25.6,25.7,25.95,26.25]],[0.90,[23.27,23.9,24.35,24.72,25.2,25.35,25.42,25.55,25.75,26.25]],
[0.87,[23.1,23.3,23.35,24.09,24.24,24.62,25.12,25.18,25.52,25.9,26.02,26.2]],
[0.76,[24.13,24.78,25.26,25.32]],[0.73,[23.27,23.4,23.78,24.2,24.65,24.77,25.1,25.44,25.85,25.9,26.1]],
[0.72,[24.68,25.2,25.2,25.5,26.08,26.15]],[0.70,[25.57]],[0.69,[24.28,24.73,24.92,25.56,25.9,25.98,26.0]],
[0.68,[23.05,23.62,25.15]],[0.66,[24.35,25.9,26.2,26.25]],[0.654,[22.62,22.98,23.98]],[0.62,[24.26,24.95,25.01,25.46,25.65,25.8,26.2]],
[0.61,[24.0,24.36,24.84,25.18,25.2,25.4,25.8,25.97,26.25]],[0.59,[25.4,25.79,25.92]],[0.57,[25.0,25.2,25.9,26.15]],
[0.73,[21.88]],[0.58,[21.83]],[0.55,[21.8,21.87]],[0.56,[25.3,25.32,25.8]],
[0.516,[25.5,25.7,26.0,26.25,26.15]],[0.50,[25.53,25.85,26.0]],[0.495,[25.2,25.37,25.6,25.75,25.8]],[0.49,[26.15,26.2]],
[0.47,[24.7,24.5,25.2,25.42,25.72,25.75,25.95]],[0.46,[23.28,23.6,24.0,24.1,24.63,25.0,25.2,25.35,25.48,25.8,25.9]],
[0.45,[23.3,24.12,24.35,25.3,25.5,25.7,26.1,26.25]],[0.44,[25.0,25.1,25.23,25.55,25.65,25.85,26.08,26.2]],
[0.435,[24.0,24.45,24.7,24.85,25.2,25.33,25.4,25.5,25.6,25.73,25.82,26.0]],[0.425,[24.55,24.75,24.82,25.35,25.42,25.5,25.9,26.05,26.15]],
[0.42,[23.2,23.62,24.65,25.45,26.22]],[0.40,[24.05,24.2,24.67,24.95,25.0]],[0.39,[23.57,24.37]],[0.37,[24.28]],
[0.34,[24.85,25.05]],[0.33,[24.32]],[0.29,[25.0,26.02]],[0.28,[23.28,24.05,25.25,25.5]],[0.26,[24.55,24.84,25.58,25.75]],
[0.235,[26.25,23.45]],[0.24,[24.1,24.65]],[0.22,[23.45,25.73]],[0.2,[25.7]],[0.197,[24.93,24.93]],[0.16,[24.5]],
[0.16,[25.4]],
[0.10,[22.27,22.88,23.15,23.42,23.45,23.56,23.62,23.7,23.8,23.85,23.9,24.0,24.1,24.2,24.25,24.3,24.38,24.5,24.6,24.68,24.75,24.9,25.05,25.15,25.3,25.42,25.55,25.62]],
[0.085,[22.68,22.72,23.1,23.13,23.45,23.47,23.7,23.75,23.78,23.85,23.95,24.05,24.18,24.27,24.32,24.4,24.55,24.7,24.78,24.88,24.95,25.1,25.2,25.28,25.4,25.47,25.6,25.68,25.85,25.95,26.0,25.22]],
[0.065,[22.18,22.2,22.7,23.1,23.36,24.0,24.12,24.2,24.3,24.4,24.45,24.6,24.72,24.85,24.92,25.02,25.08,25.3,25.36,25.45,25.55,25.65,25.75,25.87,26.07,26.15]],
[0.055,[22.15,22.67,23.08,23.32,23.38,23.75,24.08,24.18,24.3,24.4,24.5,24.6,24.8,25.0,25.2,25.38,25.5,25.58,25.8,25.95]],
[0.045,[21.81,22.22,22.6,23.36,23.6,23.63,24.1,24.2,24.25,24.5,24.75,24.88,25.12,25.15,25.25,25.45,25.47,25.55]],
[0.03,[21.76,22.06,22.56,23.3,23.4,23.55,23.6,23.95,24.1,24.3,24.43,24.5,24.6,24.65,24.9,25.0,25.1,25.18,25.28,25.4,25.53,25.65,25.7,25.98,26.15,26.2]],
[0.015,[21.75,23.45,23.62,23.62,23.75,23.85,23.95,24.15,24.45,24.6,24.65,24.78,24.92,25.05,25.3,25.52,25.72,25.8,25.87,26.05,26.2,26.25]],
[0.01,[21.02,21.17]],[0.0,[22.47,22.57,23.39,23.98,24.45,24.66,24.85,25.05,25.6,25.85]],[-0.01,[21.8,23.41,22.5,25.85]],
[-0.02,[22.18,22.46,25.3,25.5,26.0]],[-0.02,[23.77,24.12,24.18,24.35,24.55,25.92]],[-0.03,[22.9,23.0]],[-0.07,[23.68]]];
const unlensedRightDense=[
[1.64,[25.2,25.34,25.43,25.55,25.69,25.78,25.86,25.92,25.99,26.06,26.12,26.18,26.23]],[1.6,[25.22,25.35,25.44,25.6,25.73,25.83,25.91,25.97,26.03,26.09,26.15,26.21]],
[1.57,[25.4,25.55,25.66,25.74,25.84,25.93,26.0,26.07,26.13,26.19,26.25]],[1.535,[25.3,25.45,25.62,25.7,25.79,25.86,25.94,26.0,26.07,26.14,26.21]],
[1.5,[25.5,25.57,25.63,25.7,25.8,25.87,25.94,26.0,26.07,26.14,26.2]],[1.48,[25.35,25.48,25.55,25.65,25.71,25.81,25.87,25.93,26.0,26.07,26.13,26.2]],
[1.46,[25.72,25.8,25.88,25.95,26.02,26.08,26.15,26.22]],[1.42,[25.74,25.88,25.96,26.05,26.12,26.2]],[1.175,[25.36,25.5,25.66,25.8,25.92,26.05,26.22]],[1.065,[25.12,25.3,25.5,25.62,25.83,26.0,26.17]]];
const lensedRight=[
[2.10,[23.82]],[2.02,[22.45]],[1.99,[23.24]],[1.956,[23.24]],[1.934,[23.29,23.4,23.46]],[1.92,[21.78]],[1.89,[21.97]],[1.9,[23.52]],[1.87,[22.76,22.91]],[1.88,[23.07]],[1.865,[23.11]],[1.83,[22.2,23.03]],
[1.81,[23.16,23.17]],[1.77,[22.34]],[1.76,[22.64,22.78]],[1.715,[22.16]],[1.74,[23.21]],[1.66,[22.47,22.51]],[1.63,[22.78]],[1.62,[22.53]],[1.6,[22.59]],[1.585,[22.48]],[1.56,[22.29]],[1.515,[22.53]],[1.505,[22.32]],[1.475,[22.56]],
[1.43,[22.75,22.81]],[1.4,[22.18,22.18]],[1.36,[22.75]],[1.355,[22.31]],[1.325,[22.4]],[1.34,[22.97,23.27]],[1.25,[22.39]],[1.15,[22.15]],[1.12,[22.37]],[1.14,[22.57]],[1.145,[22.83,22.95]],[1.10,[22.77]],[1.05,[22.79]],[1.015,[22.12]],[1.025,[22.36]],
[1.96,[23.37,23.47,23.78,23.94,24.02,24.72,25.05,25.37,25.5,25.72,26.05,26.2]],
[1.98,[24.05,24.67,25.1,25.07,25.1]],[1.95,[23.54,23.6,24.35,24.5,24.6,24.98,25.3,25.58,25.66,25.8,25.95,26.12]],
[1.93,[24.15,24.35,24.55,24.6,24.65,24.83,25.15,25.2,25.35,25.48,25.78,26.0,26.2]],[1.9,[23.45,24.05,24.28,24.38,24.67,24.8,25.05,25.22,25.6,25.85,26.12]],
[1.88,[23.8,24.07,24.3,24.5,24.8,24.98,25.32,25.55,25.7,26.0]],[1.86,[23.85,24.05,24.3,24.48,24.75,24.87,25.15,25.4,25.65,25.88,26.1]],
[1.83,[23.73,24.02,24.22,24.45,24.9,25.08,25.3,25.6,25.9,26.13]],[1.81,[23.27,23.42,23.75,24.1,24.32,24.7,24.85,25.0,25.35,25.5,25.7]],
[1.79,[23.96,24.07,24.4,24.6,24.95,25.15,25.4,25.9,26.2]],[1.76,[23.15,23.78,24.12,24.2,24.35,24.62,24.85,25.12,25.28,25.45,25.62,25.95,26.2]],
[1.74,[23.28,23.58,24.04,24.12,24.35,24.58,24.75,24.95,25.2,25.42,25.58,25.8,26.08]],
[1.72,[23.2,23.58,23.75,24.2,24.45,24.6,24.72,25.05,25.28,25.62,25.95]],[1.70,[22.83,23.05,23.2,23.62,24.05,24.3,24.5,24.65,24.88,25.1,25.35,25.55,25.78,26.12]],
[1.68,[23.32,23.7,24.15,24.33,24.58,24.78,24.95,25.32,25.48,25.88]],[1.66,[22.9,23.36,23.48,23.7,24.0,24.28,24.45,24.66,24.82,25.02,25.22,25.6]],
[1.64,[22.88,23.1,23.25,23.5,23.6,23.8,23.92,24.18,24.4,24.58,24.75,24.92,25.1,25.3,25.45,25.7]],
[1.62,[22.94,23.1,23.18,23.4,23.55,23.72,23.98,24.1,24.3,24.48,24.62,24.8,24.95,25.12,25.2,25.4,25.5]],
[1.60,[22.64,23.2,23.28,23.5,23.62,23.68,23.85,24.0,24.5,24.66,24.78,24.93,25.05,25.2,25.35,25.45,25.75]],
[1.58,[22.8,22.92,23.38,23.58,23.75,24.0,24.08,24.38,24.45,24.6,24.72,24.85,24.98,25.15,25.28,25.42,25.6]],
[1.56,[23.05,23.4,23.5,23.72,23.92,24.05,24.18,24.32,24.42,24.5,24.62,24.75,24.88,25.02,25.15,25.35,25.5]],
[1.54,[22.84,22.82,23.3,23.44,23.62,23.95,24.0,24.12,24.25,24.4,24.52,24.62,24.7,24.82,24.93,25.05,25.2,25.33,25.5,25.78]],
[1.52,[23.0,23.2,23.35,23.55,23.8,24.02,24.12,24.22,24.35,24.45,24.55,24.62,24.72,24.82,24.95,25.05,25.18,25.32]],
[1.50,[23.1,23.3,23.6,23.88,24.02,24.15,24.28,24.4,24.5,24.6,24.68,24.8,24.9,25.05,25.18,25.4,25.65]],
[1.48,[22.7,23.32,23.9,24.05,24.15,24.3,24.42,24.55,24.62,24.72,24.85,24.98,25.1,25.22,25.42,25.55]],
[1.46,[23.25,23.5,23.75,23.9,24.08,24.2,24.3,24.48,24.6,24.7,24.88,25.08,25.2,25.35,25.55,25.9]],
[1.44,[22.98,23.2,23.4,23.52,23.78,23.95,24.15,24.3,24.4,24.52,24.72,24.92,25.08,25.25,25.42,25.6,25.78]],
[1.42,[23.1,23.7,24.0,24.1,24.25,24.32,24.5,24.7,24.95,25.1,25.32,25.55,25.72,25.98]],
[1.39,[23.4,23.62,23.8,24.2,24.32,24.55,24.75,24.88,25.05,25.28,25.5,25.7,26.0]],
[1.37,[23.2,23.35,23.65,24.0,24.12,24.35,24.62,24.72,24.95,25.08,25.33,25.52,25.8,26.1]],
[1.34,[23.6,23.72,24.12,24.3,24.5,24.65,24.78,24.95,25.18,25.38,25.55,25.85,26.05]],
[1.32,[23.6,23.8,24.02,24.3,24.48,24.7,24.88,25.1,25.25,25.4,25.7,25.98]],
[1.30,[23.55,24.3,24.55,24.92,25.1,25.3,25.52,25.75,26.2]],[1.26,[23.0,23.5,23.9,24.1,24.5,24.75,25.1,25.3,25.65,25.9,26.15]],
[1.24,[23.4,23.98,24.32,24.45,24.58,24.85,25.05,25.32,25.42,25.7,26.0]],
[1.22,[23.15,23.95,24.05,24.2,24.35,24.7,24.95,25.18,25.4,25.65,25.78,26.05]],
[1.19,[22.98,23.95,24.25,24.55,24.9,25.12,25.3,25.58,25.75,25.98,26.22]],
[1.15,[23.2,23.55,24.05,24.15,24.42,24.62,24.85,25.15,25.4,25.62,25.82,26.1]],
[1.12,[23.65,23.88,24.0,24.1,24.28,24.55,24.7,25.1,25.33,25.5,25.72,26.0]],
[1.10,[24.05,24.15,24.3,24.5,24.75,24.9,25.15,25.38,25.62,25.85,26.15]],
[1.07,[23.2,23.55,24.08,24.33,24.5,24.8,25.05,25.3,25.68,25.98]],
[1.05,[23.6,23.95,24.18,24.4,24.6,24.95,25.15,25.4,25.7,25.9]],[1.02,[22.85,22.97,23.68,23.9,24.28,24.42,24.7,25.0,25.25,25.55,25.9]],
[0.99,[23.45,23.62,24.02,24.3,24.8,25.2,25.6,26.12]],[0.96,[23.65,24.48,24.75,25.25,25.7,25.9]],
[0.93,[23.1,23.28,23.75,23.95,25.05,25.3,25.8,26.1]],[0.91,[23.42,23.9,24.36,25.2,25.6]],[0.89,[23.15,23.35,23.95,24.78,25.27,25.8,26.1]],
[0.85,[23.5,24.35,24.55,24.9,25.3,25.6,26.0]],[0.82,[24.4,24.43,25.05,25.6,25.78]],[0.78,[22.97,24.2,24.55,25.25,25.45,25.9]],
[0.74,[23.95,24.2,24.35,24.65,24.95,25.52,25.9,26.12,26.25]],[0.72,[22.9,23.3,24.6,25.0,25.1,25.25,25.45]],
[0.68,[23.1,24.6,24.95,25.32,25.6,25.9]],[0.65,[22.9,24.18,24.78,25.4,25.6,26.0]],[0.62,[23.4,24.3,24.65,24.98,25.2,25.55]],
[0.60,[24.35,24.75,25.1,25.3,25.8]],[0.55,[23.3,24.0,24.2,24.42,25.5,25.65,25.95]],[0.52,[23.15,24.5,24.72,24.85,25.35]],
[0.49,[22.5,22.4,24.1,24.8,25.0,25.35,25.5]],[0.46,[22.48,22.55,23.2,24.0,24.2,24.45,24.6,25.05,25.35,25.7]],
[0.44,[22.45,23.15,23.6,24.35,24.55,24.9,25.2,25.5,26.12,26.0]],[0.42,[22.55,22.75,22.85,23.45,23.7,24.1,24.85,25.2,25.45,25.6,25.85]],
[0.40,[23.15,23.25,23.6,24.4,24.95,25.1,25.15,25.4,25.6,25.7]],[0.37,[22.58,23.22,23.78,24.1,25.22,25.35]],[0.34,[22.55,23.3,23.35,24.2]],
[0.3,[22.75,22.8,23.7,24.2,24.9,25.4]],[0.26,[23.3,24.05,24.65,24.9,25.1,25.85]],[0.28,[22.31]],
[0.23,[22.3,24.27,25.6,25.87,26.25]],[0.22,[24.95,24.97,25.2,25.55]],[0.195,[22.77,24.0,24.9,25.72]],[0.18,[25.1,25.5,24.9]],
[0.15,[22.95,24.28,24.88]],[0.13,[22.78,25.5]],[0.09,[23.4,23.65,25.1]],
[0.098,[21.94]],[0.094,[21.25]],[0.08,[21.55]],[0.07,[21.79]],
[0.1,[21.95,22.28,22.72,22.93,23.02,23.12,23.6,23.9,24.1,24.32,24.8,25.0,25.3,25.75,25.98]],
[0.08,[22.1,22.15,22.3,22.48,22.6,22.82,23.0,23.2,23.5,23.95,24.25,24.5,24.62,25.4,25.7,25.95,26.05]],
[0.06,[21.38,21.41,22.1,22.22,22.35,22.45,22.65,22.88,23.12,23.25,23.48,23.68,23.85,24.05,24.4,24.78,25.0,25.3,25.55,25.98]],
[0.04,[20.47,20.83,21.95,22.3,22.5,22.58,22.7,22.78,22.9,23.0,23.4,23.55,24.3,24.55,24.7,24.95,25.15,25.6,25.9,26.15]],
[0.027,[19.7,20.7,21.03,21.3,21.93,22.0,22.2,22.42,22.66,22.95,23.1,23.2,23.45,23.85,24.15,24.5,24.85,25.3,25.75]],
[0.005,[20.1,21.29,21.37,21.98,22.16,22.4,22.7,22.85,23.0,23.25,23.7,24.2,24.55,24.95,25.45,25.62]],
[-0.01,[20.45,21.08,22.15,22.25,22.55,22.78,23.0,23.2,23.58,23.72,24.02,24.4,24.8,25.2,25.58]],[-0.03,[21.41,22.24,22.56,23.28,23.78,24.1,24.72,25.4]],
[-0.05,[21.96,22.58,23.05,23.98,25.6]],[-0.06,[23.13]],
[0.32,[19.06]],[1.45,[20.15]],[1.425,[21.11]],[1.03,[21.26]],[0.91,[21.32]],[1.715,[21.55]],[1.686,[21.68]],[1.64,[21.69]],[0.754,[20.2]],[0.69,[21.0]],[0.51,[20.5]],[0.43,[20.49,20.59]],[0.36,[21.4]],[0.24,[21.64]],[0.56,[22.02]],[0.54,[21.66]],[0.70,[21.94]]];
const lensedRightDense=[
[1.77,[24.9,25.05,25.3,25.5,25.75]],[1.67,[24.1,24.24,24.38,24.55,24.7,24.88,25.08,25.3]],[1.63,[24.28,24.45,24.68,24.85,25.05,25.22,25.35]],
[1.59,[24.45,24.55,24.7,24.88,25.1,25.25]],[1.55,[23.82,24.08,24.28,24.48,24.58,24.7,24.95,25.1,25.25,25.45]],[1.51,[24.08,24.25,24.45,24.58,24.68,24.75,24.88,25.0,25.12,25.28,25.42]],
[1.47,[24.18,24.38,24.5,24.66,24.78,24.94,25.05,25.15,25.28,25.48]],[1.43,[24.22,24.42,24.6,24.78,24.85,25.02,25.18,25.3,25.5]],[1.38,[24.48,24.68,24.82,24.98,25.12,25.25,25.45,25.62]],
[1.33,[24.4,24.58,24.7,24.9,25.05,25.25,25.45,25.6]],[1.28,[24.62,24.85,25.0,25.2,25.45,25.6,25.82]],[1.2,[24.45,24.72,25.0,25.22,25.5,25.7]],[1.14,[24.5,24.75,25.0,25.28,25.55,25.75,25.9]]];
const lensedColor="#9fe9ae", unlensedColor="#2b3e56", spine="#000";
const W=2500,H=1248,plotTop=147.5,plotBottom=1113.5;
const svg=d3.select("#c").append("svg").attr("width",W).attr("height",H);
svg.append("text").attr("x",1283).attr("y",79).attr("text-anchor","middle").attr("font-weight","bold").attr("font-size",76.6).text("Simulated CC SNe");
const flat=rows=>rows.flatMap(([c,ms])=>ms.map(m=>[m,c]));
function panel(left,right,id,lensed,unlensed,withLegend){
  const x=d3.scaleLinear().domain(xDomain).range([left,right]);
  const y=d3.scaleLinear().domain(yDomain).range([plotBottom,plotTop]);
  svg.append("clipPath").attr("id",id).append("rect").attr("x",left).attr("y",plotTop).attr("width",right-left).attr("height",plotBottom-plotTop);
  const g=svg.append("g").attr("clip-path",`url(#${id})`);
  const dots=(data,col)=>g.append("g").selectAll("circle").data(data).join("circle").attr("cx",d=>x(d[0])).attr("cy",d=>y(d[1])).attr("r",3.7).attr("fill",col);
  dots(flat(lensed),lensedColor);
  dots(flat(unlensed),unlensedColor);
  g.append("path").datum(d3.zip(cutMag,cutColor)).attr("fill","none").attr("stroke","#000").attr("stroke-width",8.5).attr("stroke-linejoin","round").attr("stroke-linecap","square")
    .attr("d",d3.line().x(d=>x(d[0])).y(d=>y(d[1])));
  const xMinor=d3.range(18,26.25,0.2).filter(v=>Math.abs(v/2-Math.round(v/2))>1e-6);
  const yMinor=d3.range(-0.5,2.5001,0.1).filter(v=>Math.abs(v*2-Math.round(v*2))>1e-6);
  const gx=svg.append("g").attr("transform",`translate(0,${plotBottom})`);
  gx.call(d3.axisBottom(x).tickValues(xMajor).tickSize(-28).tickPadding(12).tickFormat((d,i)=>xTickLabels[i]));
  gx.selectAll("line").attr("stroke-width",4);
  gx.select(".domain").remove();
  const gxm=svg.append("g").attr("transform",`translate(0,${plotBottom})`).call(d3.axisBottom(x).tickValues(xMinor).tickSize(-14).tickFormat(""));
  gxm.selectAll("line").attr("stroke-width",2.6);gxm.select(".domain").remove();
  const gy=svg.append("g").attr("transform",`translate(${left},0)`);
  gy.call(d3.axisLeft(y).tickValues(yMajor).tickSize(-28).tickPadding(10).tickFormat((d,i)=>yTickLabels[i]));
  gy.selectAll("line").attr("stroke-width",4);
  gy.select(".domain").remove();
  const gym=svg.append("g").attr("transform",`translate(${left},0)`).call(d3.axisLeft(y).tickValues(yMinor).tickSize(-14).tickFormat(""));
  gym.selectAll("line").attr("stroke-width",2.6);gym.select(".domain").remove();
  svg.selectAll(".tick text").attr("font-size",43).attr("font-family","DejaVu Sans").attr("fill","#000");
  svg.append("rect").attr("x",left).attr("y",plotTop).attr("width",right-left).attr("height",plotBottom-plotTop).attr("fill","none").attr("stroke",spine).attr("stroke-width",3.6);
  const cx=(left+right)/2;
  svg.append("text").attr("x",cx).attr("y",1215).attr("text-anchor","middle").attr("font-size",55).text("Observed i-band magnitude");
  svg.append("text").attr("transform",`translate(${left-110},${(plotTop+plotBottom)/2}) rotate(-90)`).attr("text-anchor","middle").attr("font-size",55).text("Observed r-i color");
  if(withLegend){
    svg.append("rect").attr("x",199).attr("y",172.5).attr("width",406).attr("height",159.5).attr("rx",6).attr("fill","#fff").attr("fill-opacity",0.8).attr("stroke","#d5d5d5").attr("stroke-width",2.6);
    [["Lensed",lensedColor,216,228],["Unlensed",unlensedColor,289,302]].forEach(([t,c,my,by])=>{
      svg.append("circle").attr("cx",268).attr("cy",my).attr("r",3.7).attr("fill",c);
      svg.append("text").attr("x",356).attr("y",by).attr("font-size",50).text(t);
    });
  }
}
panel(174,1216,"a",lensedLeft.concat(lensedLeftDense),unlensedLeft.concat(unlensedLeftDense),true);
panel(1424,2466,"b",lensedRight.concat(lensedRightDense),unlensedRight.concat(unlensedRightDense),false);
</script></body></html>
